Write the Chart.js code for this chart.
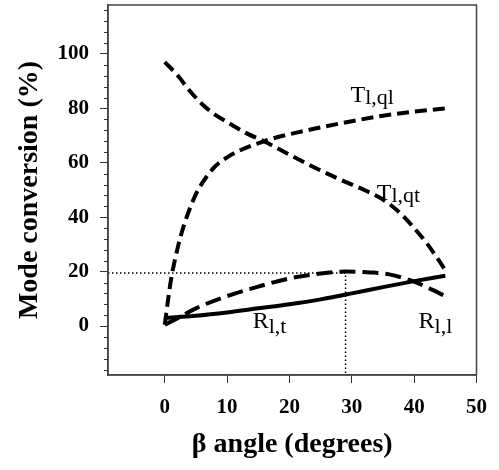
<!DOCTYPE html>
<html>
<head>
<meta charset="utf-8">
<script src="https://cdn.jsdelivr.net/npm/chart.js@4.4.1/dist/chart.umd.min.js"></script>
<style>
    html, body { margin: 0; padding: 0; background: #fff; }
</style>
</head>
<body>
<canvas id="modes" width="499" height="470"></canvas>
<script>
// beta angle (degrees) and mode conversion (%)
const betaQt = [0, 2, 4, 6, 8, 10, 13, 16, 20, 24, 28, 32, 35, 38, 40, 42, 44, 45];
const transQt = [97, 92.3, 86.5, 81.5, 77.8, 75, 71, 67.8, 63, 58.3, 54, 50, 46.5, 41, 36, 30.5, 24, 20.5];

const betaQl = [0, 0.5, 1, 2, 3, 4, 5, 6, 8, 10, 12, 16, 20, 25, 30, 35, 40, 45];
const transQl = [0.5, 9, 17, 28, 36.5, 43, 48.5, 52.5, 58.5, 62, 64.5, 68, 70.5, 73, 75.3, 77.3, 78.8, 80];

const betaRt = [0, 5, 10, 15, 20, 25, 30, 35, 40, 45];
const reflRt = [3, 3.8, 5, 6.5, 8, 9.8, 12, 14.3, 16.5, 18.5];

const betaRl = [0, 2, 5, 10, 15, 20, 25, 29, 33, 36, 40, 42, 45];
const reflRl = [0.5, 2.8, 6.5, 11, 14.5, 17.5, 19.3, 20, 19.7, 19, 16.3, 14.3, 11];

// dotted guide: max of R l,l at ~29 deg, ~19.5 %
const guideBeta = [-9.1, 29, 29];
const guideValue = [19.5, 19.5, -18];

// tick labels
const xTicks = [0, 10, 20, 30, 40, 50];
const yTicks = [0, 20, 40, 60, 80, 100];
const yMinorTicks = [-16, -12, -8, -4, 4, 8, 12, 16, 24, 28, 32, 36, 44, 48, 52, 56,
    64, 68, 72, 76, 84, 88, 92, 96, 104, 108, 112, 116];

// curve names (main letter + subscript), placed in data units
const curveLabels = [
    { main: "T", sub: "l,ql", x: 29.8, y: 82.2, drop: 2 },
    { main: "T", sub: "l,qt", x: 34.0, y: 46.3, drop: 2 },
    { main: "R", sub: "l,t", x: 14.1, y: -0.9, drop: 5 },
    { main: "R", sub: "l,l", x: 40.7, y: -0.9, drop: 5 },
];

const toPoints = (xs, ys) => xs.map((x, i) => ({ x: x, y: ys[i] }));

const serif = '"Liberation Serif", "Times New Roman", serif';

const extras = {
    id: "extras",
    afterDraw(chart) {
        const { ctx, chartArea, scales } = chart;
        ctx.save();
        // frame
        ctx.strokeStyle = "#444";
        ctx.lineWidth = 1.5;
        ctx.strokeRect(chartArea.left, chartArea.top,
            chartArea.right - chartArea.left, chartArea.bottom - chartArea.top);
        // minor y ticks
        ctx.lineWidth = 1;
        ctx.strokeStyle = "#333";
        yMinorTicks.forEach((v) => {
            const py = Math.round(scales.y.getPixelForValue(v)) + 0.5;
            ctx.beginPath();
            ctx.moveTo(chartArea.left - 4, py);
            ctx.lineTo(chartArea.left, py);
            ctx.stroke();
        });
        // curve labels
        ctx.fillStyle = "#000";
        ctx.textBaseline = "alphabetic";
        ctx.textAlign = "left";
        curveLabels.forEach((l) => {
            const px = scales.x.getPixelForValue(l.x);
            const py = scales.y.getPixelForValue(l.y);
            ctx.font = "24px " + serif;
            ctx.fillText(l.main, px, py);
            const w = ctx.measureText(l.main).width;
            ctx.font = "22px " + serif;
            ctx.fillText(l.sub, px + w, py + l.drop);
        });
        ctx.restore();
    },
};

new Chart(document.getElementById("modes"), {
    type: "line",
    data: {
        datasets: [
            {
                label: "T l,qt",
                data: toPoints(betaQt, transQt),
                borderColor: "#000",
                borderWidth: 4,
                borderDash: [12, 6],
            },
            {
                label: "T l,ql",
                data: toPoints(betaQl, transQl),
                borderColor: "#000",
                borderWidth: 4,
                borderDash: [12, 6],
            },
            {
                label: "R l,t",
                data: toPoints(betaRt, reflRt),
                borderColor: "#000",
                borderWidth: 4,
            },
            {
                label: "R l,l",
                data: toPoints(betaRl, reflRl),
                borderColor: "#000",
                borderWidth: 4,
                borderDash: [16, 7],
            },
            {
                label: "guide",
                data: toPoints(guideBeta, guideValue),
                borderColor: "#000",
                borderWidth: 1.5,
                borderDash: [1.5, 2.5],
                cubicInterpolationMode: "default",
                tension: 0,
            },
        ],
    },
    options: {
        responsive: false,
        animation: false,
        devicePixelRatio: 1,
        cubicInterpolationMode: "monotone",
        elements: { point: { radius: 0 } },
        layout: { padding: { top: 5, right: 21, left: 0, bottom: 0 } },
        plugins: {
            legend: { display: false },
            tooltip: { enabled: false },
        },
        scales: {
            x: {
                type: "linear",
                min: -9.1,
                max: 50,
                afterBuildTicks: (s) => { s.ticks = xTicks.map((v) => ({ value: v })); },
                afterFit: (s) => { s.height = 95; s.paddingLeft = 0; },
                grid: { drawOnChartArea: false, tickLength: 8, color: "#333" },
                border: { color: "#444", width: 1.5 },
                ticks: {
                    padding: 12,
                    color: "#000",
                    maxRotation: 0,
                    font: { family: serif, size: 21, weight: "bold" },
                },
                title: {
                    display: true,
                    text: "β angle (degrees)",
                    color: "#000",
                    font: { family: serif, size: 28, weight: "bold" },
                    padding: { top: 0, bottom: 8 },
                },
            },
            y: {
                min: -18,
                max: 118,
                afterBuildTicks: (s) => { s.ticks = yTicks.map((v) => ({ value: v })); },
                afterFit: (s) => { s.width = 108; s.paddingTop = 0; s.paddingBottom = 0; },
                grid: { drawOnChartArea: false, tickLength: 8, color: "#333" },
                border: { color: "#444", width: 1.5 },
                ticks: {
                    padding: 11,
                    color: "#000",
                    font: { family: serif, size: 21, weight: "bold" },
                },
                title: {
                    display: true,
                    text: "Mode conversion (%)",
                    color: "#000",
                    font: { family: serif, size: 28, weight: "bold" },
                    padding: { top: 12.5, bottom: 0 },
                },
            },
        },
    },
    plugins: [extras],
});
</script>
</body>
</html>
